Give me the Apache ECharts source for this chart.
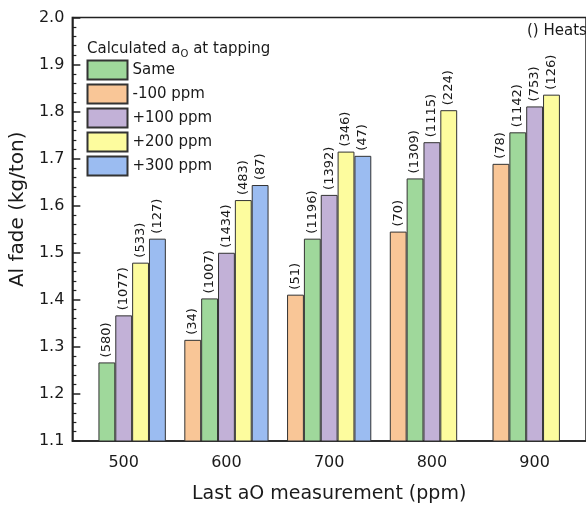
<!DOCTYPE html>
<html>
<head>
<meta charset="utf-8">
<script src="https://cdn.jsdelivr.net/npm/echarts@6/dist/echarts.min.js"></script>
<style>
  html, body { margin: 0; padding: 0; background: #fff; }
  #main { width: 586px; height: 509px; }
</style>
</head>
<body>
<div id="main"></div>
<script>
// x categories: last aO measurement (ppm)
var categories = ['500', '600', '700', '800', '900'];

// Al fade (kg/ton) per calculated aO at tapping
var minus100 = [null, 1.315, 1.411, 1.545, 1.689];
var same     = [1.267, 1.403, 1.530, 1.658, 1.756];
var plus100  = [1.367, 1.500, 1.623, 1.735, 1.811];
var plus200  = [1.479, 1.612, 1.715, 1.803, 1.836];
var plus300  = [1.530, 1.644, 1.706, null, null];

// number of heats, shown in brackets above each bar
var heatsMinus100 = [null, 34, 51, 70, 78];
var heatsSame     = [580, 1007, 1196, 1309, 1142];
var heatsPlus100  = [1077, 1434, 1392, 1115, 753];
var heatsPlus200  = [533, 483, 346, 224, 126];
var heatsPlus300  = [127, 87, 47, null, null];

var FONT = 'DejaVu Sans';

function makeSeries(name, data, heats, color) {
    return {
        name: name,
        type: 'bar',
        data: data,
        barGap: 0,
        barCategoryGap: '18%',
        itemStyle: { color: color, borderColor: '#333', borderWidth: 1 },
        label: {
            show: true,
            position: 'top',
            rotate: 90,
            align: 'left',
            verticalAlign: 'middle',
            distance: 5,
            fontFamily: FONT,
            fontSize: 13,
            color: '#1a1a1a',
            formatter: function (p) {
                var h = heats[p.dataIndex];
                return h == null ? '' : '(' + h + ')';
            }
        }
    };
}

var myChart = echarts.init(document.getElementById('main'));

var option = {
    animation: false,
    textStyle: { fontFamily: FONT },
    grid: {
        left: 69.5, top: 17.5, right: -8.5, bottom: 67,
        show: true, borderColor: '#222', borderWidth: 1.5
    },
    title: [
        {
            text: '{a|Calculated a}{s|O}{a| at tapping}',
            left: 87, top: 40, padding: 0,
            textStyle: {
                fontWeight: 'normal',
                rich: {
                    a: { fontFamily: FONT, fontSize: 15, fontWeight: 'normal', color: '#1a1a1a' },
                    s: { fontFamily: FONT, fontSize: 10, fontWeight: 'normal', color: '#1a1a1a', padding: [9, 0, 0, 0] }
                }
            }
        },
        {
            text: '() Heats',
            left: 527, top: 24, padding: 0,
            textStyle: { fontFamily: FONT, fontSize: 15, fontWeight: 'normal', color: '#1a1a1a' }
        }
    ],
    legend: {
        orient: 'vertical',
        left: 86.5, top: 59.5, padding: 0,
        icon: 'rect',
        itemWidth: 40, itemHeight: 19, itemGap: 3,
        selectedMode: false,
        data: ['Same', '-100 ppm', '+100 ppm', '+200 ppm', '+300 ppm'],
        textStyle: { fontFamily: FONT, fontSize: 15, color: '#1a1a1a' }
    },
    xAxis: {
        type: 'category',
        data: categories,
        name: 'Last aO measurement (ppm)',
        nameLocation: 'middle',
        nameGap: 44,
        nameTextStyle: { fontFamily: FONT, fontSize: 19, color: '#1a1a1a' },
        axisLine: { lineStyle: { color: '#222', width: 1.5 } },
        axisTick: { alignWithLabel: true, length: 7, lineStyle: { color: '#222', width: 1.5 } },
        axisLabel: { margin: 14, fontFamily: FONT, fontSize: 16, color: '#1a1a1a' }
    },
    yAxis: {
        type: 'value',
        min: 1.1, max: 2.0, interval: 0.1,
        name: 'Al fade (kg/ton)',
        nameLocation: 'middle',
        nameGap: 36,
        nameTextStyle: { fontFamily: FONT, fontSize: 20, color: '#1a1a1a', padding: [0, 0, 0, 40] },
        axisLine: { show: true, lineStyle: { color: '#222', width: 1.5 } },
        axisTick: { show: true, inside: true, length: 8, lineStyle: { color: '#222', width: 1.5 } },
        minorTick: { show: true, splitNumber: 5, length: 4, lineStyle: { color: '#222', width: 1.2 } },
        splitLine: { show: false },
        axisLabel: {
            margin: 8, fontFamily: FONT, fontSize: 16, color: '#1a1a1a',
            formatter: function (v) { return v.toFixed(1); }
        }
    },
    series: [
        makeSeries('-100 ppm', minus100, heatsMinus100, '#f9c697'),
        makeSeries('Same', same, heatsSame, '#9fd89b'),
        makeSeries('+100 ppm', plus100, heatsPlus100, '#c2b1d7'),
        makeSeries('+200 ppm', plus200, heatsPlus200, '#fdfc9e'),
        makeSeries('+300 ppm', plus300, heatsPlus300, '#9bbcf1')
    ]
};

myChart.setOption(option);
</script>
</body>
</html>
